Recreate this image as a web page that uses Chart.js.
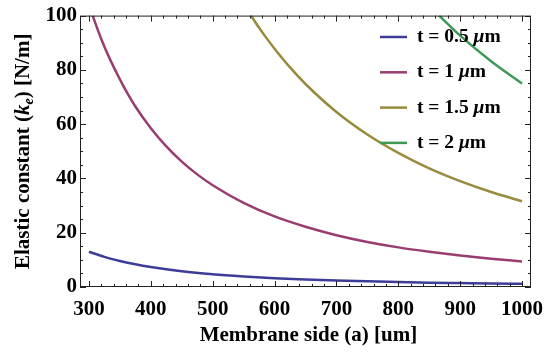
<!DOCTYPE html>
<html>
<head>
<meta charset="utf-8">
<script src="https://cdn.jsdelivr.net/npm/chart.js@4"></script>
<style>
  html, body { margin: 0; padding: 0; background: #fff; }
  #wrap { width: 556px; height: 358px; }
</style>
</head>
<body>
<div id="wrap"><canvas id="chart"></canvas></div>
<script>
// tick labels
const xTicks = [300, 400, 500, 600, 700, 800, 900, 1000];
const yTicks = [0, 20, 40, 60, 80, 100];

// series
const thickness = ['0.5', '1', '1.5', '2'];
const colors = ['#3d3d99', '#993d71', '#998b3d', '#3d9955'];

const aBlue = [300, 325, 350, 375, 400, 450, 500, 550, 600, 650, 700, 750, 800, 850, 900, 950, 1000];
const kBlue = [13.0, 11.1, 9.6, 8.35, 7.35, 5.8, 4.7, 3.9, 3.25, 2.8, 2.4, 2.1, 1.85, 1.6, 1.45, 1.3, 1.2];

const aPurple = [306, 315, 325, 335, 350, 362, 375, 400, 425, 450, 475, 500, 550, 600, 650, 700, 750, 800, 850, 900, 950, 1000];
const kPurple = [100, 94.3, 88.5, 83.4, 76.5, 71.4, 66.5, 58.5, 51.8, 46.2, 41.5, 37.5, 31, 26, 22.2, 19.1, 16.6, 14.6, 13, 11.6, 10.4, 9.4];

const aOlive = [562, 575, 587, 600, 625, 650, 700, 750, 800, 850, 900, 950, 1000];
const kOlive = [100, 95.5, 91.7, 87.8, 80.9, 74.8, 64.5, 56.2, 49.4, 43.7, 39, 35, 31.6];

const aGreen = [866, 900, 950, 1000];
const kGreen = [100, 92.6, 83.2, 75];

const xs = [aBlue, aPurple, aOlive, aGreen];
const ys = [kBlue, kPurple, kOlive, kGreen];

const FONT = '"Liberation Serif", "Times New Roman", serif';

const datasets = thickness.map((t, i) => ({
    label: 't = ' + t + ' \u03bcm',
    thick: t,
    data: xs[i].map((a, j) => ({ x: a, y: ys[i][j] })),
    borderColor: colors[i],
    borderWidth: 2.5,
    pointRadius: 0,
    fill: false,
    cubicInterpolationMode: 'monotone'
}));

// frame, inward ticks, axis titles and legend
const decor = {
    id: 'decor',
    afterDraw(chart) {
        const ctx = chart.ctx;
        const a = chart.chartArea;
        const sx = chart.scales.x, sy = chart.scales.y;
        ctx.save();
        ctx.strokeStyle = '#222';
        ctx.lineWidth = 1;
        ctx.strokeRect(a.left + 0.5, a.top + 0.5, a.right - a.left - 1, a.bottom - a.top - 1);

        ctx.beginPath();
        for (let v = 300; v <= 1000; v += 20) {
            const px = Math.round(sx.getPixelForValue(v)) + 0.5;
            const len = v % 100 === 0 ? 6 : 3;
            ctx.moveTo(px, a.bottom); ctx.lineTo(px, a.bottom - len);
            ctx.moveTo(px, a.top); ctx.lineTo(px, a.top + len);
        }
        for (let v = 0; v <= 100; v += 5) {
            const py = Math.round(sy.getPixelForValue(v)) + 0.5;
            const len = v % 20 === 0 ? 6 : 3;
            ctx.moveTo(a.left, py); ctx.lineTo(a.left + len, py);
            ctx.moveTo(a.right, py); ctx.lineTo(a.right - len, py);
        }
        ctx.stroke();

        // x title
        ctx.fillStyle = '#000';
        ctx.font = 'bold 21px ' + FONT;
        ctx.textAlign = 'center';
        ctx.textBaseline = 'middle';
        ctx.fillText('Membrane side (a) [um]', (a.left + a.right) / 2 + 3, 336);

        // y title with italic subscript
        const parts = [
            { t: 'Elastic constant (', f: 'bold 21px ' + FONT, dy: 0 },
            { t: 'k', f: 'italic bold 21px ' + FONT, dy: 0 },
            { t: 'e', f: 'italic bold 14px ' + FONT, dy: 5 },
            { t: ') [N/m]', f: 'bold 21px ' + FONT, dy: 0 }
        ];
        let total = 0;
        parts.forEach(p => { ctx.font = p.f; p.w = ctx.measureText(p.t).width; total += p.w; });
        ctx.translate(24, (a.top + a.bottom) / 2);
        ctx.rotate(-Math.PI / 2);
        ctx.textAlign = 'left';
        let cx = -total / 2;
        parts.forEach(p => { ctx.font = p.f; ctx.fillText(p.t, cx, p.dy); cx += p.w; });
        ctx.setTransform(1, 0, 0, 1, 0, 0);

        // legend
        chart.data.datasets.forEach((ds, i) => {
            const y = 37 + i * 35.3;
            ctx.strokeStyle = ds.borderColor;
            ctx.lineWidth = 2.5;
            ctx.beginPath();
            ctx.moveTo(380, y); ctx.lineTo(407, y);
            ctx.stroke();
            ctx.fillStyle = '#000';
            ctx.textAlign = 'left';
            ctx.textBaseline = 'middle';
            let lx = 417;
            const seg = [
                { t: 't = ' + ds.thick + ' ', f: 'bold 19.5px ' + FONT },
                { t: '\u03bc', f: 'italic bold 19.5px ' + FONT },
                { t: 'm', f: 'bold 19.5px ' + FONT }
            ];
            seg.forEach(s => { ctx.font = s.f; ctx.fillText(s.t, lx, y); lx += ctx.measureText(s.t).width; });
        });
        ctx.restore();
    }
};

new Chart(document.getElementById('chart'), {
    type: 'line',
    data: { datasets: datasets },
    options: {
        responsive: true,
        maintainAspectRatio: false,
        devicePixelRatio: 1,
        animation: false,
        layout: { padding: { left: 0, top: 8, right: 25, bottom: 0 } },
        plugins: { legend: { display: false }, tooltip: { enabled: false } },
        scales: {
            x: {
                type: 'linear',
                min: 285.5,
                max: 1014.5,
                grid: { display: false, drawTicks: false },
                border: { display: false },
                afterBuildTicks: s => { s.ticks = xTicks.map(v => ({ value: v })); },
                afterFit: s => { s.height = 71; },
                ticks: { color: '#000', font: { family: FONT, size: 21, weight: 'bold' }, padding: 10, maxRotation: 0, autoSkip: false, callback: v => String(v) }
            },
            y: {
                min: 0,
                max: 100,
                grid: { display: false, drawTicks: false },
                border: { display: false },
                afterBuildTicks: s => { s.ticks = yTicks.map(v => ({ value: v })); },
                afterFit: s => { s.width = 80; },
                ticks: { color: '#000', font: { family: FONT, size: 21, weight: 'bold' }, padding: 3, callback: v => String(v) }
            }
        }
    },
    plugins: [decor]
});
</script>
</body>
</html>
